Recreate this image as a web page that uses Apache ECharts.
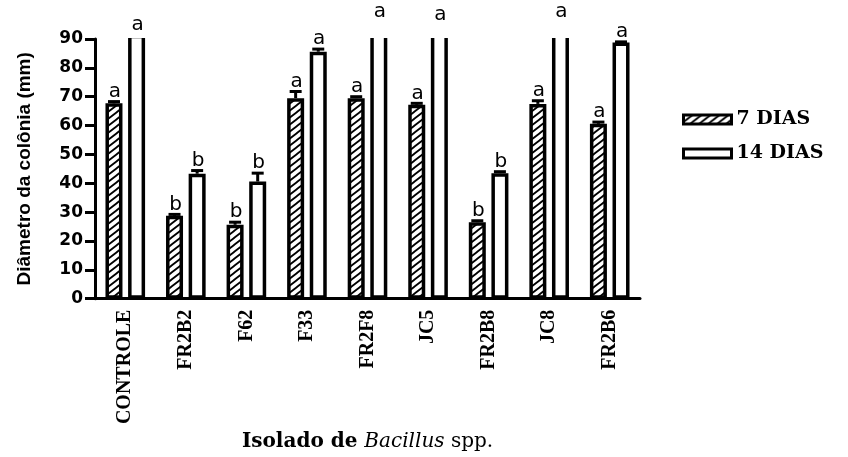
<!DOCTYPE html>
<html>
<head>
<meta charset="utf-8">
<script src="https://cdn.jsdelivr.net/npm/echarts@6/dist/echarts.min.js"></script>
<style>
  html, body { margin: 0; padding: 0; background: #fff; }
  #chart { width: 848px; height: 457px; }
</style>
</head>
<body>
<div id="chart"></div>
<script>
// Colony diameter (mm) of Bacillus isolates after 7 and 14 days
const categories = ['CONTROLE', 'FR2B2', 'F62', 'F33', 'FR2F8', 'JC5', 'FR2B8', 'JC8', 'FR2B6'];
const days7 = [67.7, 28.7, 25.6, 69.5, 69.5, 67.2, 26.5, 67.5, 60.6];
const err7 = [0.6, 0.5, 0.9, 2.3, 0.5, 0.5, 0.5, 1.1, 0.6];
const days14 = [91.5, 43.3, 40.6, 85.6, 96, 95, 43.5, 96, 88.8];
const err14 = [0, 1.1, 2.9, 0.9, 0, 0, 0.5, 0, 0.2];
const letters7 = ['a', 'b', 'b', 'a', 'a', 'a', 'b', 'a', 'a'];
const letters14 = ['a', 'b', 'b', 'a', 'a', 'a', 'b', 'a', 'a'];
const seriesNames = ['7 DIAS', '14 DIAS'];
const yTicks = { min: 0, max: 90, interval: 10 };

// layout constants
const GRID = { left: 95, right: 208, top: 39, bottom: 158 };
const BAR_WIDTH = 17;
const BAR_GAP = 0.33;
const BAR_OFFSET = BAR_WIDTH * (1 + BAR_GAP) / 2;
const CAP_HALF = 6;
const LETTER_GAP = 0;

// diagonal hatch fill
function makeHatch() {
  const w = 9, h = 7;
  const c = document.createElement('canvas');
  c.width = w; c.height = h;
  const g = c.getContext('2d');
  g.fillStyle = '#fff';
  g.fillRect(0, 0, w, h);
  g.strokeStyle = '#000';
  g.lineWidth = 1.8;
  g.beginPath();
  g.moveTo(-w, 2 * h); g.lineTo(2 * w, -h);
  g.moveTo(-w, h); g.lineTo(w, -h);
  g.moveTo(0, 2 * h); g.lineTo(2 * w, 0);
  g.stroke();
  return c;
}
const hatch = { image: makeHatch(), repeat: 'repeat' };

// error bar (upper half with cap) plus significance letter above each bar
function makeMarks(letters, side) {
  return function (params, api) {
    const i = api.value(0);
    const v = api.value(1);
    const e = api.value(2);
    const x = api.coord([i, 0])[0] + side * BAR_OFFSET;
    const yBar = api.coord([i, v])[1];
    const yTop = api.coord([i, v + e])[1];
    const children = [];
    if (e > 0) {
      children.push({
        type: 'line',
        shape: { x1: x, y1: yBar, x2: x, y2: yTop },
        style: { stroke: '#000', lineWidth: 3 }
      });
      children.push({
        type: 'line',
        shape: { x1: x - CAP_HALF, y1: yTop, x2: x + CAP_HALF, y2: yTop },
        style: { stroke: '#000', lineWidth: 3 }
      });
    }
    children.push({
      type: 'text',
      x: x + 1,
      y: yTop - LETTER_GAP,
      style: {
        text: letters[params.dataIndex],
        fill: '#000',
        fontFamily: 'DejaVu Sans',
        fontSize: 20,
        align: 'center',
        verticalAlign: 'bottom'
      }
    });
    return { type: 'group', children: children };
  };
}

const chart = echarts.init(document.getElementById('chart'), null, { renderer: 'canvas' });

chart.setOption({
  animation: false,
  backgroundColor: '#fff',
  grid: { left: GRID.left, right: GRID.right, top: GRID.top, bottom: GRID.bottom, containLabel: false },
  legend: {
    data: seriesNames,
    orient: 'vertical',
    left: 677,
    top: 105,
    icon: 'rect',
    itemWidth: 48,
    itemHeight: 9,
    itemGap: 15,
    itemStyle: { borderColor: '#000', borderWidth: 3 },
    textStyle: { fontFamily: 'DejaVu Serif', fontWeight: 'bold', fontSize: 19, color: '#000' },
    selectedMode: false
  },
  xAxis: {
    type: 'category',
    data: categories,
    boundaryGap: true,
    name: '{b|Isolado de }{i|Bacillus}{r| spp.}',
    nameLocation: 'middle',
    nameGap: 129,
    nameTextStyle: {
      rich: {
        b: { fontFamily: 'DejaVu Serif', fontWeight: 'bold', fontSize: 20, color: '#000' },
        i: { fontFamily: 'DejaVu Serif', fontStyle: 'italic', fontSize: 20, color: '#000' },
        r: { fontFamily: 'DejaVu Serif', fontSize: 20, color: '#000' }
      }
    },
    axisLine: { lineStyle: { color: '#000', width: 3 } },
    axisTick: { alignWithLabel: true, length: 7, lineStyle: { color: '#000', width: 3 } },
    axisLabel: {
      rotate: 90,
      margin: 11,
      interval: 0,
      color: '#000',
      fontFamily: 'Liberation Serif',
      fontWeight: 'bold',
      fontSize: 20
    }
  },
  yAxis: {
    type: 'value',
    min: yTicks.min,
    max: yTicks.max,
    interval: yTicks.interval,
    name: 'Diâmetro da colônia (mm)',
    nameLocation: 'middle',
    nameGap: 61,
    nameTextStyle: { fontFamily: 'Liberation Sans', fontWeight: 'bold', fontSize: 19, color: '#000' },
    axisLine: { show: true, lineStyle: { color: '#000', width: 3 } },
    axisTick: { show: true, length: 10, lineStyle: { color: '#000', width: 3 } },
    axisLabel: { margin: 12, color: '#000', fontFamily: 'DejaVu Sans', fontWeight: 'bold', fontSize: 17 },
    splitLine: { show: false }
  },
  graphic: [{
    // open tops for bars that run past the axis maximum
    type: 'rect',
    z: 5,
    shape: { x: GRID.left + 2, y: 0, width: 848 - GRID.left - GRID.right, height: GRID.top - 1 },
    style: { fill: '#fff' },
    silent: true
  }],
  series: [
    {
      name: seriesNames[0],
      type: 'bar',
      data: days7,
      barWidth: BAR_WIDTH,
      barGap: (BAR_GAP * 100) + '%',
      clip: false,
      z: 2,
      itemStyle: { color: hatch, borderColor: '#000', borderWidth: 3.5 },
      emphasis: { disabled: true }
    },
    {
      name: seriesNames[1],
      type: 'bar',
      data: days14,
      barWidth: BAR_WIDTH,
      barGap: (BAR_GAP * 100) + '%',
      clip: false,
      z: 2,
      itemStyle: { color: '#fff', borderColor: '#000', borderWidth: 3.5 },
      emphasis: { disabled: true }
    },
    {
      type: 'custom',
      z: 10,
      silent: true,
      renderItem: makeMarks(letters7, -1),
      data: days7.map((v, i) => [i, v, err7[i]])
    },
    {
      type: 'custom',
      z: 10,
      silent: true,
      renderItem: makeMarks(letters14, 1),
      data: days14.map((v, i) => [i, v, err14[i]])
    }
  ]
});
</script>
</body>
</html>
